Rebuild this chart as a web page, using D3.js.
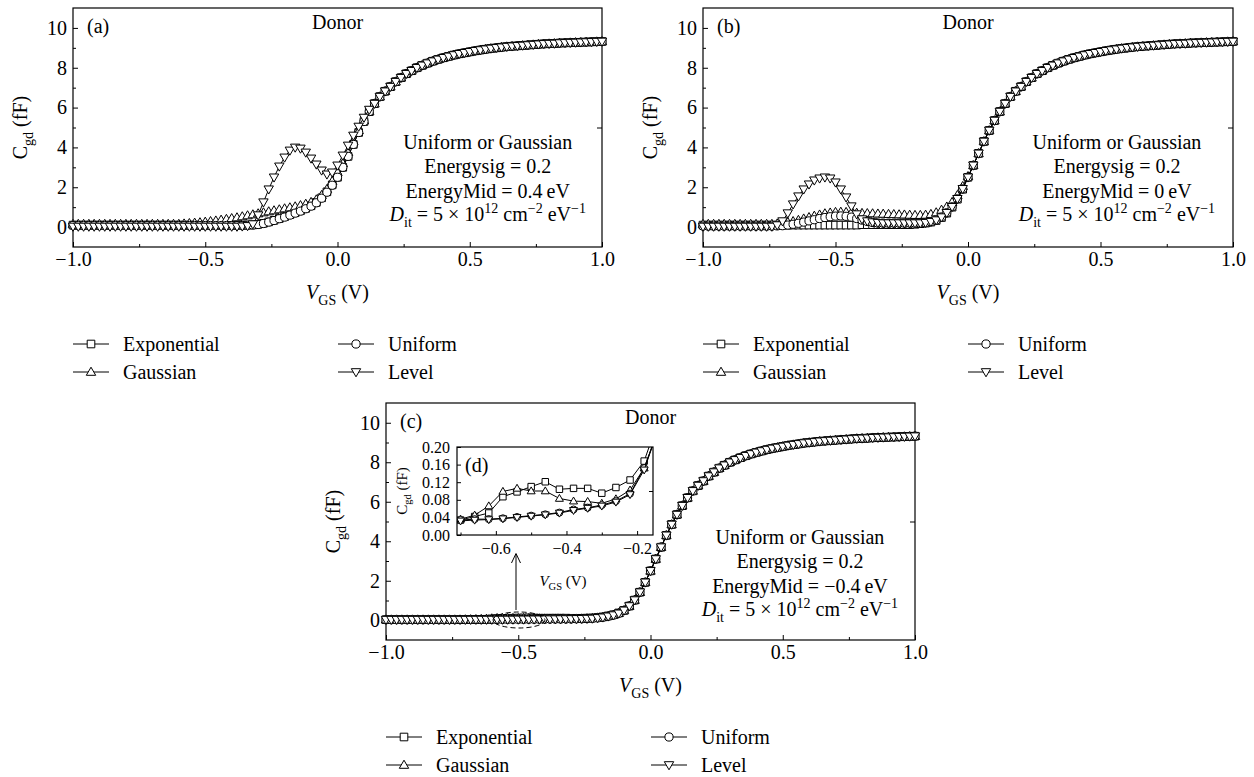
<!DOCTYPE html>
<html>
<head>
<meta charset="utf-8">
<script src="https://cdn.jsdelivr.net/npm/d3@7"></script>
<style>
body { margin: 0; background: #fff; }
text { font-family: "Liberation Serif", serif; fill: #000; }
</style>
</head>
<body>
<svg id="chart" width="1254" height="777"></svg>
<script>
// gate voltage grid of the main panels (V)
const vgs = [
    -1.00, -0.98, -0.96, -0.94, -0.92, -0.90, -0.88, -0.86, -0.84, -0.82,
    -0.80, -0.78, -0.76, -0.74, -0.72, -0.70, -0.68, -0.66, -0.64, -0.62,
    -0.60, -0.58, -0.56, -0.54, -0.52, -0.50, -0.48, -0.46, -0.44, -0.42,
    -0.40, -0.38, -0.36, -0.34, -0.32, -0.30, -0.28, -0.26, -0.24, -0.22,
    -0.20, -0.18, -0.16, -0.14, -0.12, -0.10, -0.08, -0.06, -0.04, -0.02,
    0.00, 0.02, 0.04, 0.06, 0.08, 0.10, 0.12, 0.14, 0.16, 0.18,
    0.20, 0.22, 0.24, 0.26, 0.28, 0.30, 0.32, 0.34, 0.36, 0.38,
    0.40, 0.42, 0.44, 0.46, 0.48, 0.50, 0.52, 0.54, 0.56, 0.58,
    0.60, 0.62, 0.64, 0.66, 0.68, 0.70, 0.72, 0.74, 0.76, 0.78,
    0.80, 0.82, 0.84, 0.86, 0.88, 0.90, 0.92, 0.94, 0.96, 0.98,
    1.00
];

// common part of every curve, 0.14 .. 1.00 V (fF)
const riseTail = [
    6.2, 6.55, 6.82,
    7.05, 7.3, 7.5, 7.7, 7.85, 8.0, 8.12, 8.23, 8.33, 8.42,
    8.5, 8.57, 8.64, 8.7, 8.75, 8.8, 8.85, 8.89, 8.93, 8.97,
    9.0, 9.03, 9.06, 9.08, 9.1, 9.12, 9.14, 9.16, 9.18, 9.2,
    9.21, 9.22, 9.24, 9.25, 9.26, 9.27, 9.28, 9.29, 9.3, 9.31,
    9.32
];
// 0.00 .. 0.12 V
const riseNear = [2.5, 3.1, 3.7, 4.3, 4.85, 5.35, 5.8];

// panel (a): EnergyMid = 0.4 eV, values -1.00 .. -0.02 V
const aExpLow = [
    0.1, 0.1, 0.1, 0.1, 0.1, 0.1, 0.1, 0.1, 0.1, 0.1,
    0.1, 0.1, 0.1, 0.1, 0.1, 0.1, 0.1, 0.1, 0.1, 0.1,
    0.1, 0.1, 0.1, 0.1, 0.1, 0.1, 0.1, 0.1, 0.1, 0.1,
    0.1, 0.1, 0.1, 0.1, 0.11, 0.14, 0.19, 0.26, 0.34, 0.43,
    0.52, 0.62, 0.72, 0.82, 0.94, 1.07, 1.24, 1.47, 1.77, 2.12
];
const aGauLow = [
    0.15, 0.15, 0.15, 0.15, 0.15, 0.15, 0.15, 0.15, 0.15, 0.15,
    0.15, 0.15, 0.15, 0.15, 0.15, 0.15, 0.15, 0.15, 0.15, 0.15,
    0.15, 0.17, 0.19, 0.21, 0.23, 0.26, 0.29, 0.32, 0.36, 0.40,
    0.44, 0.48, 0.53, 0.58, 0.63, 0.68, 0.73, 0.78, 0.83, 0.88,
    0.93, 0.98, 1.03, 1.09, 1.16, 1.25, 1.38, 1.6, 1.9, 2.3
];
const aUniLow = [
    0.08, 0.08, 0.08, 0.08, 0.08, 0.08, 0.08, 0.08, 0.08, 0.08,
    0.08, 0.08, 0.08, 0.08, 0.08, 0.08, 0.08, 0.08, 0.08, 0.08,
    0.08, 0.08, 0.08, 0.08, 0.08, 0.08, 0.08, 0.08, 0.08, 0.08,
    0.08, 0.08, 0.08, 0.09, 0.1, 0.13, 0.18, 0.25, 0.33, 0.42,
    0.5, 0.6, 0.7, 0.8, 0.92, 1.05, 1.22, 1.45, 1.75, 2.1
];
const aLevLow = [
    0.03, 0.03, 0.03, 0.03, 0.03, 0.03, 0.03, 0.03, 0.03, 0.03,
    0.03, 0.03, 0.03, 0.03, 0.03, 0.03, 0.03, 0.03, 0.03, 0.03,
    0.03, 0.03, 0.03, 0.03, 0.03, 0.03, 0.03, 0.03, 0.03, 0.03,
    0.03, 0.03, 0.04, 0.06, 0.15, 0.6, 1.25, 1.9, 2.5, 3.05,
    3.5, 3.85, 4.0, 3.95, 3.75, 3.45, 3.15, 2.85, 2.65, 2.75
];
const aUniNear = [2.5, 3.0, 3.55, 4.15, 4.75, 5.3, 5.8];
const aGauNear = [2.75, 3.2, 3.75, 4.3, 4.85, 5.35, 5.8];
const aLevNear = [3.1, 3.6, 4.1, 4.6, 5.05, 5.5, 5.9];

// panel (b): EnergyMid = 0 eV
const bExpLow = [
    0.1, 0.1, 0.1, 0.1, 0.1, 0.1, 0.1, 0.1, 0.1, 0.1,
    0.1, 0.1, 0.1, 0.1, 0.1, 0.1, 0.1, 0.1, 0.1, 0.1,
    0.1, 0.1, 0.1, 0.1, 0.1, 0.1, 0.1, 0.1, 0.1, 0.1,
    0.12, 0.12, 0.12, 0.12, 0.12, 0.12, 0.12, 0.12, 0.12, 0.12,
    0.14, 0.17, 0.2, 0.25, 0.33, 0.48, 0.7, 1.0, 1.4, 1.9
];
const bGauLow = [
    0.15, 0.15, 0.15, 0.15, 0.15, 0.15, 0.15, 0.15, 0.15, 0.15,
    0.15, 0.15, 0.15, 0.15, 0.17, 0.2, 0.24, 0.29, 0.35, 0.42,
    0.49, 0.56, 0.62, 0.68, 0.72, 0.75, 0.76, 0.75, 0.73, 0.71,
    0.7, 0.69, 0.68, 0.67, 0.66, 0.65, 0.64, 0.63, 0.62, 0.61,
    0.6, 0.6, 0.61, 0.65, 0.73, 0.86, 1.02, 1.25, 1.6, 2.05
];
const bUniLow = [
    0.05, 0.05, 0.05, 0.05, 0.05, 0.05, 0.05, 0.05, 0.05, 0.05,
    0.05, 0.05, 0.05, 0.05, 0.06, 0.07, 0.1, 0.14, 0.19, 0.25,
    0.31, 0.37, 0.43, 0.48, 0.52, 0.55, 0.56, 0.54, 0.5, 0.43,
    0.35, 0.28, 0.23, 0.2, 0.2, 0.2, 0.2, 0.2, 0.2, 0.2,
    0.2, 0.2, 0.22, 0.27, 0.35, 0.5, 0.72, 1.02, 1.42, 1.92
];
const bLevLow = [
    0.03, 0.03, 0.03, 0.03, 0.03, 0.03, 0.03, 0.03, 0.03, 0.03,
    0.03, 0.03, 0.03, 0.03, 0.1, 0.3, 0.7, 1.15, 1.55, 1.9,
    2.15, 2.35, 2.45, 2.5, 2.45, 2.25, 1.9, 1.5, 1.05, 0.65,
    0.4, 0.3, 0.25, 0.22, 0.2, 0.2, 0.2, 0.2, 0.2, 0.2,
    0.2, 0.2, 0.22, 0.27, 0.35, 0.5, 0.72, 1.02, 1.42, 1.92
];
const bGauNear = [2.55, 3.1, 3.7, 4.3, 4.85, 5.35, 5.8];

// panel (c): EnergyMid = -0.4 eV
const cExpLow = [
    0.03, 0.03, 0.03, 0.03, 0.03, 0.03, 0.03, 0.03, 0.03, 0.03,
    0.03, 0.03, 0.03, 0.03, 0.03, 0.034, 0.038, 0.042, 0.046, 0.05,
    0.07, 0.087, 0.092, 0.098, 0.104, 0.11, 0.116, 0.121, 0.112, 0.104,
    0.104, 0.105, 0.106, 0.106, 0.106, 0.1, 0.095, 0.1, 0.108, 0.118,
    0.14, 0.17, 0.22, 0.28, 0.37, 0.5, 0.72, 1.02, 1.42, 1.92
];
const cGauLow = [
    0.03, 0.03, 0.03, 0.03, 0.03, 0.03, 0.03, 0.03, 0.03, 0.03,
    0.03, 0.03, 0.03, 0.03, 0.03, 0.036, 0.04, 0.045, 0.055, 0.066,
    0.085, 0.099, 0.103, 0.106, 0.103, 0.1, 0.1, 0.1, 0.09, 0.083,
    0.08, 0.077, 0.077, 0.076, 0.074, 0.072, 0.077, 0.082, 0.092, 0.102,
    0.13, 0.16, 0.21, 0.27, 0.36, 0.5, 0.72, 1.02, 1.42, 1.92
];
const cUniLow = [
    0.03, 0.03, 0.03, 0.03, 0.03, 0.03, 0.03, 0.03, 0.03, 0.03,
    0.03, 0.03, 0.03, 0.03, 0.033, 0.034, 0.035, 0.036, 0.036, 0.036,
    0.037, 0.038, 0.04, 0.041, 0.043, 0.044, 0.046, 0.047, 0.049, 0.051,
    0.055, 0.058, 0.06, 0.062, 0.065, 0.068, 0.072, 0.077, 0.085, 0.094,
    0.12, 0.15, 0.2, 0.26, 0.35, 0.5, 0.72, 1.02, 1.42, 1.92
];
const cLevLow = [
    0.03, 0.03, 0.03, 0.03, 0.03, 0.03, 0.03, 0.03, 0.03, 0.03,
    0.03, 0.03, 0.03, 0.03, 0.03, 0.032, 0.033, 0.034, 0.035, 0.035,
    0.036, 0.037, 0.038, 0.04, 0.041, 0.043, 0.045, 0.046, 0.048, 0.05,
    0.053, 0.056, 0.058, 0.061, 0.063, 0.066, 0.07, 0.075, 0.083, 0.092,
    0.12, 0.15, 0.2, 0.26, 0.35, 0.5, 0.72, 1.02, 1.42, 1.92
];

// inset (d): zoom of panel (c)
const insetV = [-0.70, -0.66, -0.62, -0.58, -0.54, -0.50, -0.46, -0.42, -0.38, -0.34, -0.30, -0.26, -0.22, -0.18, -0.14];
const dExp = [0.034, 0.042, 0.05, 0.087, 0.098, 0.11, 0.121, 0.104, 0.106, 0.106, 0.095, 0.108, 0.125, 0.168, 0.26];
const dGau = [0.036, 0.045, 0.066, 0.099, 0.106, 0.1, 0.1, 0.083, 0.077, 0.076, 0.072, 0.082, 0.102, 0.152, 0.24];
const dUni = [0.034, 0.036, 0.036, 0.038, 0.041, 0.044, 0.047, 0.051, 0.058, 0.062, 0.068, 0.077, 0.094, 0.152, 0.24];
const dLev = [0.032, 0.034, 0.035, 0.037, 0.04, 0.043, 0.046, 0.05, 0.056, 0.061, 0.066, 0.075, 0.092, 0.148, 0.24];

const seriesNames = ["Exponential", "Gaussian", "Uniform", "Level"];
const seriesMarks = ["square", "up", "circle", "down"];

// x ticks / y ticks
const xMajor = [-1, -0.5, 0, 0.5, 1];
const xMinor = [-0.75, -0.25, 0.25, 0.75];
const yMajor = [0, 2, 4, 6, 8, 10];
const yMinor = [1, 3, 5, 7, 9];
const dYMajor = [0, 0.04, 0.08, 0.12, 0.16, 0.2];
const dXMajor = [-0.6, -0.4, -0.2];
const dXMinor = [-0.7, -0.5, -0.3];

const serif = '"Liberation Serif", serif';
const svg = d3.select("#chart");

function join(low, near) {
    return low.concat(near, riseTail);
}

const panels = [
    {tag: "(a)", left: 73, top: 8, right: 602, bottom: 247, mid: "0.4\u2009eV", noteV: 0.568,
     series: [join(aExpLow, aUniNear), join(aGauLow, aGauNear), join(aUniLow, aUniNear), join(aLevLow, aLevNear)]},
    {tag: "(b)", left: 703, top: 8, right: 1233, bottom: 247, mid: "0\u2009eV", noteV: 0.562,
     series: [join(bExpLow, riseNear), join(bGauLow, bGauNear), join(bUniLow, riseNear), join(bLevLow, riseNear)]},
    {tag: "(c)", left: 386, top: 403, right: 915, bottom: 640, mid: "\u22120.4\u2009eV", noteV: 0.565,
     series: [join(cExpLow, riseNear), join(cGauLow, riseNear), join(cUniLow, riseNear), join(cLevLow, riseNear)]}
];

function markPath(type, k) {
    if (type === "square") {
        const s = 3.8 * k;
        return `M${-s},${-s}h${2 * s}v${2 * s}h${-2 * s}Z`;
    }
    if (type === "circle") {
        const r = 4.1 * k;
        return `M${r},0A${r},${r} 0 1,1 ${-r},0A${r},${r} 0 1,1 ${r},0Z`;
    }
    if (type === "up") return `M0,${-4.8 * k}L${4.7 * k},${3.3 * k}L${-4.7 * k},${3.3 * k}Z`;
    return `M0,${4.8 * k}L${4.7 * k},${-3.3 * k}L${-4.7 * k},${-3.3 * k}Z`;
}

// text with sub / superscripts
function richText(g, x, y, parts, size, anchor) {
    const t = g.append("text")
        .attr("x", x)
        .attr("y", y)
        .style("font-family", serif)
        .attr("font-size", size)
        .attr("text-anchor", anchor || "middle");
    let shift = 0;
    parts.forEach(p => {
        const target = p.sub ? size * 0.28 : p.sup ? -size * 0.4 : 0;
        const s = t.append("tspan").attr("dy", target - shift).text(p.t);
        shift = target;
        if (p.sub || p.sup) s.attr("font-size", size * 0.7);
        if (p.it) s.attr("font-style", "italic");
    });
    return t;
}

function plainText(g, x, y, str, size, anchor) {
    return g.append("text")
        .attr("x", x)
        .attr("y", y)
        .style("font-family", serif)
        .attr("font-size", size)
        .attr("text-anchor", anchor || "start")
        .text(str);
}

function styleAxis(g, size) {
    g.select(".domain").remove();
    g.attr("font-size", size).attr("font-family", serif);
    g.selectAll("text").style("font-family", serif);
    g.selectAll("line").attr("stroke", "#000").attr("stroke-width", 1);
}

function drawSeries(g, x, y, xs, values, type, k) {
    const pts = xs.map((v, i) => [v, values[i]]);
    const line = d3.line().x(d => x(d[0])).y(d => y(d[1]));
    g.append("path")
        .attr("d", line(pts))
        .attr("fill", "none")
        .attr("stroke", "#000")
        .attr("stroke-width", 1);
    g.selectAll(null)
        .data(pts)
        .enter()
        .append("path")
        .attr("transform", d => `translate(${x(d[0])},${y(d[1])})`)
        .attr("d", markPath(type, k))
        .attr("fill", "#fff")
        .attr("stroke", "#000")
        .attr("stroke-width", 1);
}

function drawPanel(p) {
    const g = svg.append("g");
    const x = d3.scaleLinear().domain([-1, 1]).range([p.left, p.right]);
    const y = d3.scaleLinear().domain([-1, 11]).range([p.bottom, p.top]);

    // axes, ticks pointing inward
    g.append("g")
        .attr("transform", `translate(0,${p.bottom})`)
        .call(d3.axisBottom(x).tickValues(xMajor).tickFormat(d3.format(".1f"))
            .tickSizeInner(-5).tickSizeOuter(0).tickPadding(5))
        .call(a => styleAxis(a, 20));
    g.append("g")
        .attr("transform", `translate(0,${p.bottom})`)
        .call(d3.axisBottom(x).tickValues(xMinor).tickFormat("").tickSizeInner(-3).tickSizeOuter(0))
        .call(a => styleAxis(a, 20));
    g.append("g")
        .attr("transform", `translate(${p.left},0)`)
        .call(d3.axisLeft(y).tickValues(yMajor).tickFormat(d3.format("d"))
            .tickSizeInner(-5).tickSizeOuter(0).tickPadding(6))
        .call(a => styleAxis(a, 20));
    g.append("g")
        .attr("transform", `translate(${p.left},0)`)
        .call(d3.axisLeft(y).tickValues(yMinor).tickFormat("").tickSizeInner(-3).tickSizeOuter(0))
        .call(a => styleAxis(a, 20));
    g.append("g")
        .attr("transform", `translate(${p.right},0)`)
        .call(d3.axisRight(y).tickValues([5]).tickFormat("").tickSizeInner(-5).tickSizeOuter(0))
        .call(a => styleAxis(a, 20));

    g.append("rect")
        .attr("x", p.left)
        .attr("y", p.top)
        .attr("width", p.right - p.left)
        .attr("height", p.bottom - p.top)
        .attr("fill", "none")
        .attr("stroke", "#000")
        .attr("stroke-width", 1.2);

    p.series.forEach((vals, i) => drawSeries(g, x, y, vgs, vals, seriesMarks[i], 1));

    // labels
    const cx = (p.left + p.right) / 2;
    richText(g, cx, p.bottom + 52, [{t: "V", it: true}, {t: "GS", sub: true}, {t: " (V)"}], 20);
    const yl = g.append("g").attr("transform", `translate(${p.left - 46},${(p.top + p.bottom) / 2}) rotate(-90)`);
    richText(yl, 0, 0, [{t: "C"}, {t: "gd", sub: true}, {t: " (fF)"}], 20);

    plainText(g, p.left + 14, p.top + 25, p.tag, 20);
    plainText(g, cx, p.top + 21, "Donor", 20, "middle");

    const nx = x(p.noteV);
    plainText(g, nx, p.top + 141, "Uniform or Gaussian", 20, "middle");
    plainText(g, nx, p.top + 165, "Energysig = 0.2", 20, "middle");
    plainText(g, nx, p.top + 190, "EnergyMid = " + p.mid, 20, "middle");
    richText(g, nx, p.top + 213, [
        {t: "D", it: true}, {t: "it", sub: true}, {t: " = 5 \u00d7 10"}, {t: "12", sup: true},
        {t: " cm"}, {t: "\u22122", sup: true}, {t: " eV"}, {t: "\u22121", sup: true}
    ], 20);

    // legend: Exponential / Gaussian in the first column, Uniform / Level in the second
    seriesNames.forEach((name, i) => {
        const lx = p.left + (i < 2 ? 0 : 265);
        const ly = p.bottom + (i % 2 === 0 ? 97 : 125);
        g.append("line").attr("x1", lx).attr("x2", lx + 36).attr("y1", ly).attr("y2", ly)
            .attr("stroke", "#000").attr("stroke-width", 1);
        g.append("path").attr("transform", `translate(${lx + 18},${ly})`)
            .attr("d", markPath(seriesMarks[i], 1))
            .attr("fill", "#fff").attr("stroke", "#000").attr("stroke-width", 1);
        plainText(g, lx + 50, ly + 7, name, 20);
    });

    return {x, y};
}

panels.forEach(p => drawPanel(p));

// inset (d) inside panel (c)
const inset = {left: 457, top: 447, right: 653, bottom: 535};
const ig = svg.append("g");
const ix = d3.scaleLinear().domain([-0.71, -0.155]).range([inset.left, inset.right]);
const iy = d3.scaleLinear().domain([0, 0.2]).range([inset.bottom, inset.top]);

ig.append("rect")
    .attr("x", inset.left).attr("y", inset.top)
    .attr("width", inset.right - inset.left).attr("height", inset.bottom - inset.top)
    .attr("fill", "#fff");

ig.append("clipPath").attr("id", "insetClip")
    .append("rect")
    .attr("x", inset.left).attr("y", inset.top)
    .attr("width", inset.right - inset.left).attr("height", inset.bottom - inset.top);

ig.append("g")
    .attr("transform", `translate(0,${inset.bottom})`)
    .call(d3.axisBottom(ix).tickValues(dXMajor).tickFormat(d3.format(".1f"))
        .tickSizeInner(-4).tickSizeOuter(0).tickPadding(8))
    .call(a => styleAxis(a, 16));
ig.append("g")
    .attr("transform", `translate(0,${inset.bottom})`)
    .call(d3.axisBottom(ix).tickValues(dXMinor).tickFormat("").tickSizeInner(-2.5).tickSizeOuter(0))
    .call(a => styleAxis(a, 16));
ig.append("g")
    .attr("transform", `translate(${inset.left},0)`)
    .call(d3.axisLeft(iy).tickValues(dYMajor).tickFormat(d3.format(".2f"))
        .tickSizeInner(-4).tickSizeOuter(0).tickPadding(7))
    .call(a => styleAxis(a, 16));
ig.append("g")
    .attr("transform", `translate(${inset.right},0)`)
    .call(d3.axisRight(iy).tickValues([0.1]).tickFormat("").tickSizeInner(-4).tickSizeOuter(0))
    .call(a => styleAxis(a, 16));

const idata = ig.append("g").attr("clip-path", "url(#insetClip)");
[dExp, dGau, dUni, dLev].forEach((vals, i) => drawSeries(idata, ix, iy, insetV, vals, seriesMarks[i], 0.85));

ig.append("rect")
    .attr("x", inset.left).attr("y", inset.top)
    .attr("width", inset.right - inset.left).attr("height", inset.bottom - inset.top)
    .attr("fill", "none").attr("stroke", "#000").attr("stroke-width", 1.2);

plainText(ig, inset.left + 8, inset.top + 25, "(d)", 20);
richText(ig, 563, 586, [{t: "V", it: true}, {t: "GS", sub: true}, {t: " (V)"}], 15);
const iyl = ig.append("g").attr("transform", `translate(407,${(inset.top + inset.bottom) / 2}) rotate(-90)`);
richText(iyl, 0, 0, [{t: "C"}, {t: "gd", sub: true}, {t: " (fF)"}], 15);

// arrow from the dashed region up to the inset
ig.append("path").attr("d", "M516,610V554").attr("stroke", "#000").attr("fill", "none");
ig.append("path").attr("d", "M511.5,563L516,553.5L520.5,563").attr("stroke", "#000").attr("fill", "none");
ig.append("ellipse")
    .attr("cx", 519).attr("cy", 620).attr("rx", 26).attr("ry", 8)
    .attr("fill", "none").attr("stroke", "#000").attr("stroke-width", 1)
    .attr("stroke-dasharray", "5,3");
</script>
</body>
</html>
